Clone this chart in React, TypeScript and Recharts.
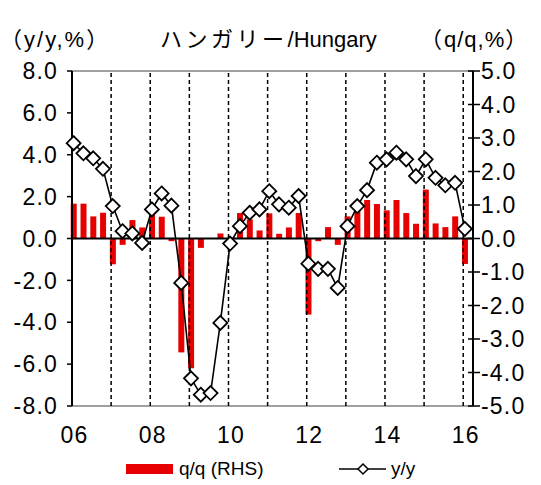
import {
  ComposedChart,
  Bar,
  Line,
  XAxis,
  YAxis,
  ReferenceLine,
} from "recharts";

const quarters = [
  "06Q1", "06Q2", "06Q3", "06Q4",
  "07Q1", "07Q2", "07Q3", "07Q4",
  "08Q1", "08Q2", "08Q3", "08Q4",
  "09Q1", "09Q2", "09Q3", "09Q4",
  "10Q1", "10Q2", "10Q3", "10Q4",
  "11Q1", "11Q2", "11Q3", "11Q4",
  "12Q1", "12Q2", "12Q3", "12Q4",
  "13Q1", "13Q2", "13Q3", "13Q4",
  "14Q1", "14Q2", "14Q3", "14Q4",
  "15Q1", "15Q2", "15Q3", "15Q4",
  "16Q1",
];

// y/y, %, left axis
const yoy = [
  4.55, 4.07, 3.83, 3.33,
  1.55, 0.35, 0.24, -0.21,
  1.39, 2.15, 1.57, -2.12,
  -6.68, -7.46, -7.38, -4.03,
  -0.24, 0.59, 1.23, 1.39,
  2.26, 1.63, 1.47, 2.03,
  -1.2, -1.45, -1.45, -2.36,
  0.59, 1.55, 2.31, 3.62,
  3.78, 4.1, 3.78, 2.98,
  3.78, 2.9, 2.54, 2.66,
  0.46,
];

// q/q, %, right axis
const qoq = [
  1.04, 1.04, 0.66, 0.77,
  -0.77, -0.19, 0.55, 0.33,
  0.86, 0.65, -0.08, -3.4,
  -3.87, -0.28, 0.0, 0.15,
  -0.1, 0.76, 0.57, 0.24,
  0.75, 0.14, 0.33, 0.76,
  -2.27, -0.08, 0.34, -0.19,
  0.66, 1.05, 1.15, 1.03,
  0.84, 1.15, 0.76, 0.44,
  1.46, 0.45, 0.34, 0.66,
  -0.76,
];

const xTickLabels = ["06", "08", "10", "12", "14", "16"];
const leftTicks = [-8, -6, -4, -2, 0, 2, 4, 6, 8];
const rightTicks = [-5, -4, -3, -2, -1, 0, 1, 2, 3, 4, 5];

// x in quarters from start of 2006; each point sits in the middle of the quarter's first month
const data = quarters.map((q, i) => ({
  q,
  x: i + 1 / 6,
  yoy: yoy[i],
  qoq: qoq[i],
}));

const yearLines = [4, 8, 12, 16, 20, 24, 28, 32, 36, 40];
const xTicks = xTickLabels.map((_, i) => i * 8 + 0.25);

const RED = "#e60000";
const FONT = '"Liberation Sans", Arial, "Noto Sans CJK JP", sans-serif';
const CJK = '"Noto Sans CJK JP", sans-serif';
const FS = 23;
const LS = 1.2;

const Diamond = (props: any) => {
  const { cx, cy, index } = props;
  if (cx == null || cy == null) return <g key={index} />;
  const r = 7;
  return (
    <polygon
      key={index}
      points={`${cx},${cy - r} ${cx + r},${cy} ${cx},${cy + r} ${cx - r},${cy}`}
      fill="#fff"
      stroke="#000"
      strokeWidth={1.8}
    />
  );
};

const RightTick = (props: any) => {
  const { x, y, payload } = props;
  return (
    <g>
      <line x1={x - 12} x2={x} y1={y} y2={y} stroke="#000" strokeWidth={1.5} />
      <text
        x={x + 1}
        y={y}
        dy="0.36em"
        textAnchor="start"
        fontSize={FS}
        fill="#000"
        fontFamily={FONT}
        style={{ letterSpacing: LS }}
      >
        {Number(payload.value).toFixed(1)}
      </text>
    </g>
  );
};

const Unit = ({ left, text, gap }: { left: number; text: string; gap: number }) => (
  <div style={{ position: "absolute", left, top: 21, fontSize: 22, whiteSpace: "nowrap" }}>
    <span style={{ fontFamily: CJK }}>（</span>
    <span style={{ marginLeft: 2, letterSpacing: gap }}>{text}</span>
    <span style={{ fontFamily: CJK }}>）</span>
  </div>
);

export default function App() {
  return (
    <div
      style={{
        position: "absolute",
        left: 0,
        top: 0,
        width: 541,
        height: 485,
        background: "#fff",
        fontFamily: FONT,
        color: "#000",
      }}
    >
      <Unit left={0} text="y/y,%" gap={2} />
      <div style={{ position: "absolute", left: 160, top: 21, fontSize: 22, whiteSpace: "nowrap" }}>
        <span style={{ fontFamily: CJK, letterSpacing: 3.5 }}>ハンガリー</span>/Hungary
      </div>
      <Unit left={420} text="q/q,%" gap={1} />

      <ComposedChart
        width={541}
        height={485}
        data={data}
        margin={{ top: 71, right: 0, bottom: 39, left: 0 }}
        style={{ fontFamily: FONT }}
      >
        <XAxis
          dataKey="x"
          type="number"
          domain={[0, 41]}
          ticks={xTicks}
          tickFormatter={(v: number) => xTickLabels[Math.round((v - 0.25) / 8)]}
          axisLine={false}
          tickLine={false}
          tickSize={0}
          tickMargin={21}
          height={40}
          tick={{ fill: "#000", fontSize: FS, style: { letterSpacing: LS } }}
          interval={0}
        />
        <YAxis
          yAxisId="l"
          orientation="left"
          domain={[-8, 8]}
          ticks={leftTicks}
          tickFormatter={(v: number) => v.toFixed(1)}
          width={72}
          axisLine={{ stroke: "#000", strokeWidth: 2 }}
          tickLine={{ stroke: "#000", strokeWidth: 1.5 }}
          tickSize={5}
          tickMargin={9}
          tick={{ fill: "#000", fontSize: FS, style: { letterSpacing: LS } }}
          interval={0}
        />
        <YAxis
          yAxisId="r"
          orientation="right"
          domain={[-5, 5]}
          ticks={rightTicks}
          width={68}
          axisLine={{ stroke: "#000", strokeWidth: 2 }}
          tickLine={false}
          tickSize={0}
          tickMargin={7}
          tick={<RightTick />}
          interval={0}
        />

        <ReferenceLine yAxisId="l" y={8} stroke="#808080" strokeWidth={1.5} />
        <ReferenceLine yAxisId="l" y={-8} stroke="#808080" strokeWidth={1.5} />
        {yearLines.map((x) => (
          <ReferenceLine
            key={x}
            yAxisId="l"
            x={x}
            stroke="#000"
            strokeWidth={1.5}
            strokeDasharray="4 3"
          />
        ))}

        <Bar
          yAxisId="r"
          dataKey="qoq"
          fill={RED}
          barSize={6}
          isAnimationActive={false}
        />
        <ReferenceLine yAxisId="l" y={0} stroke="#000" strokeWidth={2} />
        <Line
          yAxisId="l"
          dataKey="yoy"
          stroke="#000"
          strokeWidth={1.6}
          dot={Diamond}
          activeDot={false}
          isAnimationActive={false}
        />
      </ComposedChart>

      <div style={{ position: "absolute", left: 126, top: 464, width: 47, height: 10, background: RED }} />
      <div style={{ position: "absolute", left: 179, top: 458, fontSize: 19, whiteSpace: "nowrap" }}>
        q/q (RHS)
      </div>
      <svg style={{ position: "absolute", left: 336, top: 459 }} width={54} height={20}>
        <line x1={3} x2={50} y1={10} y2={10} stroke="#000" strokeWidth={1.5} />
        <polygon points="27,5 32,10 27,15 22,10" fill="#fff" stroke="#000" strokeWidth={1.5} />
      </svg>
      <div style={{ position: "absolute", left: 391, top: 458, fontSize: 19, whiteSpace: "nowrap" }}>
        y/y
      </div>
    </div>
  );
}
